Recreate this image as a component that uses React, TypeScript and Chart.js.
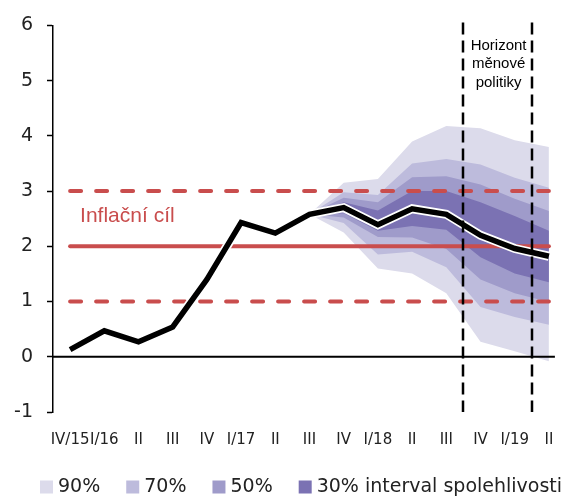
import { useEffect, useRef } from 'react';
import { Chart, registerables } from 'chart.js';

Chart.register(...registerables);

const categories = ['IV/15', 'I/16', 'II', 'III', 'IV', 'I/17', 'II', 'III', 'IV', 'I/18', 'II', 'III', 'IV', 'I/19', 'II'];
const inflation = [0.13, 0.47, 0.27, 0.54, 1.4, 2.43, 2.24, 2.58, 2.7, 2.39, 2.68, 2.58, 2.2, 1.96, 1.82];

const targetValue = 2;
const toleranceUpper = 3;
const toleranceLower = 1;

// fan starts at III/17 (index 7)
const fanStartIndex = 7;
const upper90 = [2.58, 3.15, 3.22, 3.9, 4.18, 4.14, 3.92, 3.8];
const upper70 = [2.58, 2.98, 2.93, 3.5, 3.58, 3.48, 3.24, 3.06];
const upper50 = [2.58, 2.88, 2.8, 3.25, 3.27, 3.12, 2.86, 2.64];
const upper30 = [2.58, 2.8, 2.65, 3.0, 3.0, 2.8, 2.55, 2.28];
const lower30 = [2.58, 2.6, 2.28, 2.37, 2.3, 1.8, 1.51, 1.35];
const lower50 = [2.58, 2.52, 2.17, 2.16, 1.95, 1.4, 1.15, 0.99];
const lower70 = [2.58, 2.42, 1.85, 1.9, 1.62, 0.9, 0.72, 0.58];
const lower90 = [2.58, 2.25, 1.6, 1.51, 1.15, 0.27, 0.1, -0.08];

const bandLabels = ['90%', '70%', '50%', '30% interval spolehlivosti'];
const bandColors = ['#dcdbeb', '#bdbbdc', '#9f9bca', '#7b72b3'];

const yMin = -1;
const yMax = 6;
const yStep = 1;

const horizonBoundaries = [11.5, 13.5];
const horizonText = ['Horizont', 'měnové', 'politiky'];
const targetText = 'Inflační cíl';

const RED = '#c94d4d';
const AXIS_FONT = 'DejaVu Sans';

const pad = (arr: number[]) => [...Array(fanStartIndex).fill(null), ...arr];
const flat = (v: number) => categories.map(() => v);

const overlayPlugin = {
  id: 'overlay',
  afterDatasetsDraw(chart: any) {
    const { ctx, chartArea, scales } = chart;
    const x = scales.x;
    const y = scales.y;
    ctx.save();
    // zero line
    const y0 = y.getPixelForValue(0);
    ctx.strokeStyle = '#000';
    ctx.lineWidth = 2;
    ctx.beginPath();
    ctx.moveTo(chartArea.left, y0);
    ctx.lineTo(x.getPixelForValue(categories.length - 1) + 6, y0);
    ctx.stroke();
    // horizon dashed lines
    ctx.setLineDash([12, 6]);
    ctx.lineWidth = 2.5;
    horizonBoundaries.forEach((b) => {
      const px = Math.round(x.getPixelForValue(b));
      ctx.beginPath();
      ctx.moveTo(px, chartArea.top - 3);
      ctx.lineTo(px, chartArea.bottom);
      ctx.stroke();
    });
    ctx.setLineDash([]);
    // horizon text
    const cx = (x.getPixelForValue(horizonBoundaries[0]) + x.getPixelForValue(horizonBoundaries[1])) / 2;
    ctx.fillStyle = '#000';
    ctx.font = '15px "Liberation Sans"';
    ctx.textAlign = 'center';
    ctx.textBaseline = 'middle';
    horizonText.forEach((t, i) => {
      ctx.fillText(t, cx + 1, chartArea.top + 20 + i * 18.5);
    });
    // target text
    ctx.fillStyle = RED;
    ctx.font = '21px "Liberation Sans"';
    ctx.textAlign = 'left';
    ctx.textBaseline = 'middle';
    ctx.fillText(targetText, x.getPixelForValue(0) + 10, y.getPixelForValue(2.54));
    ctx.restore();
  },
  afterDraw(chart: any) {
    const { ctx } = chart;
    ctx.save();
    ctx.font = `19px "${AXIS_FONT}"`;
    ctx.textBaseline = 'middle';
    ctx.textAlign = 'left';
    let px = 40;
    const cy = 487;
    bandLabels.forEach((label, i) => {
      ctx.fillStyle = bandColors[i];
      ctx.fillRect(px, cy - 6.5, 13, 13);
      px += 13 + 5;
      ctx.fillStyle = '#222';
      ctx.fillText(label, px, cy);
      px += ctx.measureText(label).width + 26;
    });
    ctx.restore();
  },
};

export default function App() {
  const canvasRef = useRef<HTMLCanvasElement | null>(null);

  useEffect(() => {
    if (!canvasRef.current) return;
    const edge = (data: number[], fillTarget: number | false, color: string) => ({
      data: pad(data),
      borderWidth: 0,
      borderColor: 'rgba(0,0,0,0)',
      backgroundColor: color,
      pointRadius: 0,
      fill: fillTarget === false ? false : { target: fillTarget },
      tension: 0,
    });
    const chart = new Chart(canvasRef.current, {
      type: 'line',
      data: {
        labels: categories,
        datasets: [
          {
            data: inflation,
            borderColor: '#000',
            borderWidth: 5.5,
            pointRadius: 0,
            fill: false,
            borderJoinStyle: 'miter',
          },
          {
            data: inflation,
            borderColor: '#fff',
            borderWidth: 9,
            pointRadius: 0,
            fill: false,
            borderJoinStyle: 'miter',
          },
          {
            data: flat(targetValue),
            borderColor: RED,
            borderWidth: 4,
            pointRadius: 0,
            fill: false,
            borderCapStyle: 'round',
          },
          {
            data: flat(toleranceUpper),
            borderColor: RED,
            borderWidth: 4,
            borderDash: [11, 15],
            borderCapStyle: 'round',
            pointRadius: 0,
            fill: false,
          },
          {
            data: flat(toleranceLower),
            borderColor: RED,
            borderWidth: 4,
            borderDash: [11, 15],
            borderCapStyle: 'round',
            pointRadius: 0,
            fill: false,
          },
          edge(upper30, 6, bandColors[3]),
          edge(lower30, false, bandColors[3]),
          edge(upper50, 8, bandColors[2]),
          edge(lower50, false, bandColors[2]),
          edge(upper70, 10, bandColors[1]),
          edge(lower70, false, bandColors[1]),
          edge(upper90, 12, bandColors[0]),
          edge(lower90, false, bandColors[0]),
        ] as any,
      },
      options: {
        responsive: false,
        animation: false,
        devicePixelRatio: 1,
        layout: { padding: { top: 23, right: 0, left: 0, bottom: 0 } },
        plugins: {
          legend: { display: false },
          tooltip: { enabled: false },
        },
        scales: {
          x: {
            type: 'category',
            offset: true,
            grid: { display: false },
            border: { display: false },
            ticks: {
              autoSkip: false,
              maxRotation: 0,
              color: '#222',
              font: { family: AXIS_FONT, size: 15 },
              padding: 11,
            },
            afterFit: (scale: any) => {
              scale.height = 84;
            },
          },
          y: {
            min: yMin,
            max: yMax,
            ticks: {
              stepSize: yStep,
              color: '#222',
              font: { family: AXIS_FONT, size: 19 },
              padding: 14,
            },
            grid: {
              drawOnChartArea: false,
              drawTicks: true,
              tickLength: 6,
              tickColor: '#000',
              tickWidth: 1.5,
            },
            border: { display: true, color: '#000', width: 1.5 },
            afterFit: (scale: any) => {
              scale.width = 53;
            },
          },
        },
      } as any,
      plugins: [overlayPlugin],
    });
    return () => chart.destroy();
  }, []);

  return (
    <div style={{ position: 'fixed', left: 0, top: 0, width: 566, height: 496, background: '#fff' }}>
      <canvas ref={canvasRef} width={566} height={496} style={{ display: 'block', width: 566, height: 496 }} />
    </div>
  );
}
